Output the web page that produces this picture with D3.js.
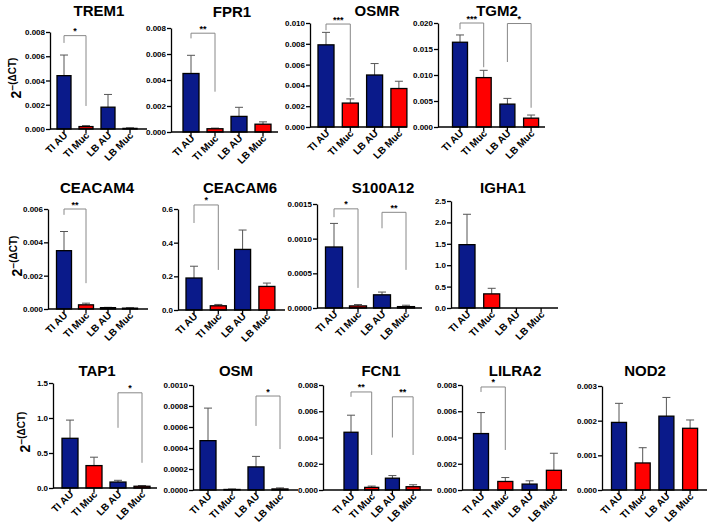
<!DOCTYPE html>
<html>
<head>
<meta charset="utf-8">
<script src="https://cdn.jsdelivr.net/npm/d3@7"></script>
<style>
  body { margin: 0; background: #fff; }
  svg { font-family: "Liberation Sans", Arial, sans-serif; font-weight: bold; }
</style>
</head>
<body>
<script>
const groupNames = ['TI AU', 'TI Muc', 'LB AU', 'LB Muc'];
const groupColors = ['#0a1a8a', '#ff0000', '#0a1a8a', '#ff0000'];

const geneNames = ['TREM1', 'FPR1', 'OSMR', 'TGM2', 'CEACAM4', 'CEACAM6', 'S100A12', 'IGHA1',
  'TAP1', 'OSM', 'FCN1', 'LILRA2', 'NOD2'];

// bar heights (mean) per gene, in group order
const meanValues = [
  [0.0044, 0.0002, 0.0018, 0.00005],
  [0.0045, 0.00025, 0.0012, 0.0006],
  [0.0079, 0.0023, 0.0050, 0.0037],
  [0.0163, 0.0095, 0.0044, 0.0017],
  [0.0035, 0.00025, 0.00008, 0.00005],
  [0.19, 0.025, 0.36, 0.14],
  [0.00088, 0.00003, 0.00019, 0.00002],
  [1.48, 0.33, 0, 0],
  [0.71, 0.32, 0.085, 0.025],
  [0.00047, 0.000005, 0.00022, 0.00001],
  [0.0044, 0.0002, 0.0009, 0.00025],
  [0.0043, 0.00065, 0.00045, 0.0015],
  [0.00195, 0.00078, 0.00213, 0.00178]
];

// top of the error bar (mean + SEM)
const errorTops = [
  [0.0061, 0.00028, 0.00285, 0.0001],
  [0.0059, 0.0003, 0.0019, 0.00078],
  [0.0091, 0.0027, 0.0061, 0.0044],
  [0.0177, 0.0109, 0.0055, 0.0023],
  [0.00465, 0.00035, 0.0001, 0.00008],
  [0.26, 0.033, 0.475, 0.16],
  [0.00122, 0.00005, 0.00023, 0.00004],
  [2.19, 0.46, 0, 0],
  [0.97, 0.44, 0.11, 0.035],
  [0.00078, 0.00001, 0.00032, 0.00002],
  [0.0057, 0.0003, 0.0011, 0.0004],
  [0.0059, 0.00095, 0.0007, 0.0028],
  [0.0025, 0.00122, 0.00267, 0.00202]
];

const tickValues = [
  [0, 0.002, 0.004, 0.006, 0.008],
  [0, 0.002, 0.004, 0.006, 0.008],
  [0, 0.002, 0.004, 0.006, 0.008, 0.010],
  [0, 0.005, 0.010, 0.015, 0.020],
  [0, 0.002, 0.004, 0.006],
  [0, 0.2, 0.4, 0.6],
  [0, 0.0005, 0.0010, 0.0015],
  [0, 0.5, 1.0, 1.5, 2.0, 2.5],
  [0, 0.5, 1.0, 1.5],
  [0, 0.0002, 0.0004, 0.0006, 0.0008, 0.0010],
  [0, 0.002, 0.004, 0.006, 0.008],
  [0, 0.002, 0.004, 0.006, 0.008],
  [0, 0.001, 0.002, 0.003]
];
const tickDecimals = [3, 3, 3, 3, 3, 1, 4, 1, 1, 4, 3, 3, 3];

// significance brackets: gene, from group, to group, bar level, left leg end, right leg end, label
const brackets = [
  [0, 0, 1, 0.0077, 0.0071, 0.0019, '*'],
  [1, 0, 1, 0.0076, 0.0072, 0.0031, '**'],
  [2, 0, 1, 0.0099, 0.0093, 0.0029, '***'],
  [3, 0, 1, 0.0200, 0.0188, 0.0115, '***'],
  [3, 2, 3, 0.0199, 0.0125, 0.0037, '*'],
  [4, 0, 1, 0.0060, 0.00565, 0.00155, '**'],
  [5, 0, 1, 0.624, 0.517, 0.238, '*'],
  [6, 0, 1, 0.00143, 0.00131, 0.00029, '*'],
  [6, 2, 3, 0.00138, 0.00115, 0.00055, '**'],
  [8, 2, 3, 1.36, 0.86, 0.36, '*'],
  [9, 2, 3, 0.000895, 0.00061, 0.00039, '*'],
  [10, 0, 1, 0.00747, 0.0071, 0.00267, '**'],
  [10, 2, 3, 0.0071, 0.0040, 0.00267, '**'],
  [11, 0, 1, 0.00785, 0.00747, 0.00305, '*']
];

// panel geometry (pixels): axis x, x-axis end, y of top tick, y of zero, first bar centre, step, bar width, title centre/baseline
const panels = [
  { x0: 50, x1: 147, yTop: 32, yBot: 129, c1: 64, step: 22, bw: 14, tx: 99, ty: 16 },
  { x0: 171, x1: 278, yTop: 28, yBot: 132, c1: 191, step: 24, bw: 16, tx: 232, ty: 17 },
  { x0: 310, x1: 407, yTop: 23, yBot: 127, c1: 326, step: 24.3, bw: 16, tx: 377, ty: 16 },
  { x0: 438, x1: 545, yTop: 23, yBot: 127, c1: 460, step: 23.7, bw: 15, tx: 497, ty: 16 },
  { x0: 48, x1: 148, yTop: 209, yBot: 309, c1: 64, step: 22, bw: 15, tx: 97, ty: 193 },
  { x0: 178, x1: 285, yTop: 209, yBot: 310, c1: 194, step: 24.3, bw: 16, tx: 240, ty: 193 },
  { x0: 317, x1: 422, yTop: 204, yBot: 308, c1: 334, step: 24, bw: 17, tx: 383, ty: 193 },
  { x0: 451, x1: 558, yTop: 201, yBot: 308, c1: 467, step: 24.7, bw: 16, tx: 503, ty: 193 },
  { x0: 53, x1: 157, yTop: 383, yBot: 488, c1: 70, step: 24, bw: 16, tx: 97, ty: 376 },
  { x0: 193, x1: 298, yTop: 385, yBot: 490, c1: 208, step: 24, bw: 16, tx: 236, ty: 376 },
  { x0: 323, x1: 432, yTop: 385, yBot: 490, c1: 351, step: 20.7, bw: 14, tx: 381, ty: 376 },
  { x0: 462, x1: 567, yTop: 385, yBot: 490, c1: 481, step: 24.3, bw: 15, tx: 515, ty: 376 },
  { x0: 602, x1: 707, yTop: 386, yBot: 490, c1: 619, step: 23.7, bw: 15, tx: 645, ty: 376 }
];
const yLabelSpots = [[16, 78], [17, 256], [25, 432]];

const svg = d3.select('body').append('svg').attr('width', 709).attr('height', 532);

geneNames.forEach(function(gene, i) {
  const p = panels[i];
  const ticks = tickValues[i];
  const g = svg.append('g');

  const y = d3.scaleLinear().domain([0, ticks[ticks.length - 1]]).range([p.yBot, p.yTop]);
  const pad = 1 - p.bw / p.step;
  const x = d3.scaleBand().domain(groupNames)
    .range([p.c1 - p.step / 2, p.c1 + 3.5 * p.step])
    .paddingInner(pad).paddingOuter(pad / 2);
  const cx = function(k) { return x(groupNames[k]) + x.bandwidth() / 2; };

  const rows = groupNames.map(function(name, k) {
    return { name: name, k: k, mean: meanValues[i][k], top: errorTops[i][k] };
  }).filter(function(d) { return d.mean > 0; });

  // error bars (upper half only)
  const eb = g.append('g').attr('stroke', '#555').attr('stroke-width', 1).attr('fill', 'none');
  eb.selectAll('line.v').data(rows).enter().append('line')
    .attr('x1', function(d) { return cx(d.k); }).attr('x2', function(d) { return cx(d.k); })
    .attr('y1', function(d) { return y(d.mean); }).attr('y2', function(d) { return y(d.top); });
  eb.selectAll('line.c').data(rows).enter().append('line')
    .attr('x1', function(d) { return cx(d.k) - 4; }).attr('x2', function(d) { return cx(d.k) + 4; })
    .attr('y1', function(d) { return y(d.top); }).attr('y2', function(d) { return y(d.top); });

  g.append('g').selectAll('rect').data(rows).enter().append('rect')
    .attr('x', function(d) { return x(d.name); })
    .attr('y', function(d) { return y(d.mean); })
    .attr('width', x.bandwidth())
    .attr('height', function(d) { return p.yBot - y(d.mean); })
    .attr('fill', function(d) { return groupColors[d.k]; })
    .attr('stroke', '#000').attr('stroke-width', 1.3);

  // axes
  const ya = g.append('g').attr('transform', 'translate(' + p.x0 + ',0)')
    .call(d3.axisLeft(y).tickValues(ticks).tickFormat(d3.format('.' + tickDecimals[i] + 'f'))
      .tickSize(4).tickSizeOuter(0));
  ya.selectAll('path, line').attr('stroke', '#000').attr('stroke-width', 1.3);
  ya.selectAll('text').attr('font-size', 8).attr('font-weight', 'bold').attr('fill', '#000').attr('x', -5);

  const xa = g.append('g').attr('transform', 'translate(0,' + p.yBot + ')')
    .call(d3.axisBottom(x).tickSize(4).tickSizeOuter(0));
  xa.select('.domain').remove();
  xa.selectAll('line').attr('stroke', '#000').attr('stroke-width', 1.3);
  xa.selectAll('text').attr('font-size', 10).attr('font-weight', 'bold').attr('fill', '#000')
    .attr('text-anchor', 'end').attr('dy', null)
    .attr('transform', 'translate(4,7) rotate(-45)').attr('y', 0).attr('x', 0);
  g.append('line').attr('x1', p.x0).attr('x2', p.x1).attr('y1', p.yBot).attr('y2', p.yBot)
    .attr('stroke', '#000').attr('stroke-width', 1.3);

  g.append('text').attr('x', p.tx).attr('y', p.ty).attr('text-anchor', 'middle')
    .attr('font-size', 15).attr('font-weight', 'bold').text(gene);
});

// significance brackets
brackets.forEach(function(b) {
  const p = panels[b[0]];
  const ticks = tickValues[b[0]];
  const y = d3.scaleLinear().domain([0, ticks[ticks.length - 1]]).range([p.yBot, p.yTop]);
  const xa = p.c1 + b[1] * p.step;
  const xb = p.c1 + b[2] * p.step;
  svg.append('path')
    .attr('d', 'M' + xa + ',' + y(b[4]) + 'V' + y(b[3]) + 'H' + xb + 'V' + y(b[5]))
    .attr('fill', 'none').attr('stroke', '#888').attr('stroke-width', 1);
  svg.append('text').attr('x', (xa + xb) / 2).attr('y', y(b[3]) - 1.5)
    .attr('text-anchor', 'middle').attr('font-size', 9).attr('font-weight', 'bold').text(b[6]);
});

// y-axis titles
yLabelSpots.forEach(function(s) {
  const t = svg.append('text').attr('transform', 'translate(' + s[0] + ',' + s[1] + ') rotate(-90)')
    .attr('text-anchor', 'middle').attr('font-weight', 'bold');
  t.append('tspan').attr('font-size', 14).attr('dy', 5).text('2');
  t.append('tspan').attr('font-size', 10).attr('dy', -5).text('\u2212(\u0394CT)');
});
</script>
</body>
</html>
